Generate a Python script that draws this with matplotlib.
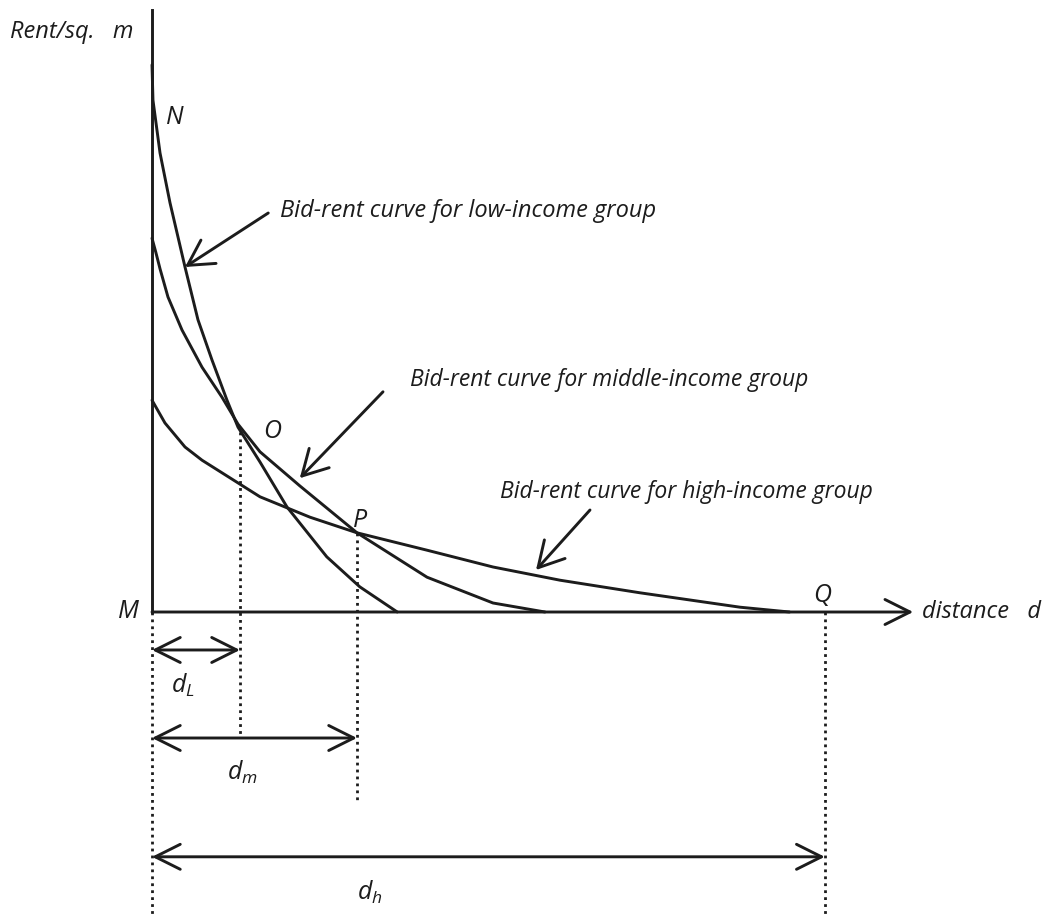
import matplotlib
matplotlib.use("Agg")
import matplotlib.pyplot as plt

plt.rcParams['font.family'] = ['Open Sans', 'DejaVu Sans']
plt.rcParams['mathtext.fontset'] = 'custom'
plt.rcParams['mathtext.it'] = 'Open Sans:italic'
plt.rcParams['mathtext.rm'] = 'Open Sans:italic'

# bid-rent curves (distance, rent)
low_d = [0, 0.013, 0.107, 0.24, 0.44, 0.613, 0.8, 1.0, 1.147, 1.44, 1.8, 2.33, 2.77, 3.27]
low_r = [9.12, 8.53, 7.65, 6.82, 5.75, 4.87, 4.2, 3.53, 3.08, 2.5, 1.75, 0.92, 0.42, 0]

mid_d = [0, 0.05, 0.107, 0.213, 0.4, 0.667, 0.933, 1.147, 1.44, 1.973, 2.733, 3.667, 4.547, 5.24]
mid_r = [6.23, 6.0, 5.72, 5.25, 4.7, 4.08, 3.58, 3.13, 2.67, 2.1, 1.32, 0.58, 0.15, 0]

high_d = [0, 0.173, 0.44, 0.667, 1.44, 2.107, 2.733, 3.667, 4.547, 5.44, 6.507, 7.84, 8.5]
high_r = [3.53, 3.15, 2.75, 2.53, 1.92, 1.58, 1.32, 1.03, 0.75, 0.53, 0.32, 0.08, 0]

# boundary distances d_L, d_m, d_h and rents at O, P
d_L, d_m, d_h = 1.173, 2.733, 8.97
rent_O, rent_P = 3.0, 1.32

labels = ["Bid-rent curve for low-income group",
          "Bid-rent curve for middle-income group",
          "Bid-rent curve for high-income group"]

fig = plt.figure(figsize=(10.49, 9.16), dpi=100)
ax = fig.add_axes([0, 0, 1, 1])
ax.set_xlim(-152 / 75, (1049 - 152) / 75)
ax.set_ylim(-(916 - 612) / 60, 612 / 60)
ax.axis('off')

ink = '#1c1c1c'
lw = 2.1
fs = 17

# axes
ax.plot([0, 0], [0, 10.03], color=ink, lw=lw)
ax.annotate('', xy=(10.15, 0), xytext=(0, 0),
            arrowprops=dict(arrowstyle='->,head_length=0.9,head_width=0.45', color=ink, lw=lw,
                            shrinkA=0, shrinkB=0, mutation_scale=20))

# curves
for d, r in [(low_d, low_r), (mid_d, mid_r), (high_d, high_r)]:
    ax.plot(d, r, color=ink, lw=lw, solid_joinstyle='round', solid_capstyle='round')

# dotted guides
ybot = -(916 - 612) / 60
dots = (0, (1, 1.5))
ax.plot([0, 0], [0, ybot], color=ink, lw=2, ls=dots)
ax.plot([d_L, d_L], [rent_O, -2.05], color=ink, lw=2, ls=dots)
ax.plot([d_m, d_m], [rent_P, -3.13], color=ink, lw=2, ls=dots)
ax.plot([d_h, d_h], [0, ybot], color=ink, lw=2, ls=dots)

# double arrows
darrow = dict(arrowstyle='<->,head_length=0.9,head_width=0.45', color=ink, lw=lw,
              shrinkA=0, shrinkB=0, mutation_scale=20)
for x1, y in [(d_L, -0.633), (d_m, -2.1), (d_h, -4.08)]:
    ax.annotate('', xy=(x1, y), xytext=(0, y), arrowprops=darrow)
lbl_x = [0.41, 1.2, 2.9]
lbl_y = [-1.22, -2.68, -4.68]
for x, y, s in zip(lbl_x, lbl_y, ['$d_L$', '$d_m$', '$d_h$']):
    ax.text(x, y, s, fontsize=fs + 1, ha='center', va='center', color=ink)

# pointer arrows with labels
parrow = dict(arrowstyle='->,head_length=0.9,head_width=0.5', color=ink, lw=lw,
              shrinkA=0, shrinkB=0, mutation_scale=20)
tails = [(1.55, 6.65), (3.08, 3.67), (5.84, 1.7)]
heads = [(0.44, 5.75), (1.97, 2.23), (5.12, 0.7)]
text_pos = [(1.71, 6.68), (3.44, 3.87), (4.64, 2.0)]
label_fs = [fs, fs - 0.5, fs - 0.5]
for t, h, p, s, f in zip(tails, heads, text_pos, labels, label_fs):
    ax.annotate('', xy=h, xytext=t, arrowprops=parrow)
    ax.text(p[0], p[1], s, fontsize=f, style='italic', ha='left', va='center', color=ink)

# point and axis labels
ax.text(-0.25, 9.67, 'Rent/sq.   m', fontsize=fs, style='italic', ha='right', va='center', color=ink)
ax.text(10.27, 0, 'distance   d', fontsize=fs, style='italic', ha='left', va='center', color=ink)
for x, y, s in [(0.31, 8.25, 'N'), (1.6, 3.0, 'O'), (2.77, 1.53, 'P'),
                (-0.31, 0, 'M'), (8.93, 0.28, 'Q')]:
    ax.text(x, y, s, fontsize=fs + 1, style='italic', ha='center', va='center', color=ink)

fig.savefig('out.png', dpi=100)
